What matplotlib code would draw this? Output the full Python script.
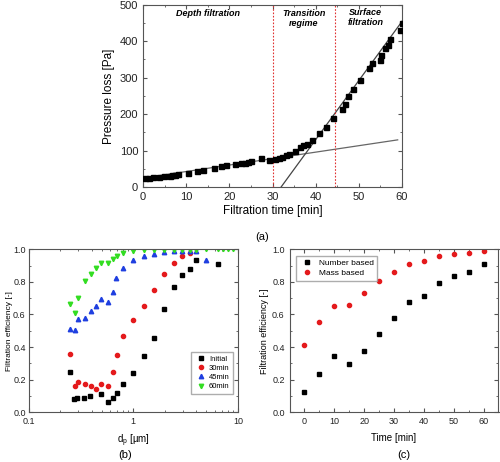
import numpy as np
import matplotlib
matplotlib.use('Agg')
import matplotlib.pyplot as plt

plt.rcParams['font.family'] = ['Liberation Sans', 'DejaVu Sans']

# (a) pressure loss vs filtration time
t_a = [0.5, 1.3, 2.3, 3.6, 4.9, 6.2, 6.7, 7.3, 8.1, 10.4, 12.6, 13.9, 16.5, 18.1, 19.3,
       21.3, 22.7, 23.7, 24.4, 25.0, 27.3, 29.3, 30.6, 31.4, 32.3, 33.1, 33.9, 35.1,
       36.4, 37.1, 37.9, 39.1, 40.8, 42.3, 43.9, 46.2, 46.8, 47.5, 48.7, 50.3, 52.3,
       53.0, 54.9, 55.2, 56.1, 56.8, 57.2, 59.6, 59.9]
p_a = [23.6, 24.5, 26.4, 28.2, 30.0, 31.8, 32.7, 33.6, 35.5, 39.1, 43.6, 47.3, 53.6, 57.3,
       60.0, 62.7, 65.5, 67.3, 69.1, 70.9, 80.0, 74.5, 77.3, 79.1, 82.7, 87.3, 90.9, 100,
       109, 114.5, 118, 130, 148, 163.6, 190, 212.7, 228, 250, 268, 293.6, 325.5, 339,
       348, 361, 380, 390, 405.5, 431, 451]
# linear fits (intercept, slope, t range)
fit_depth = (25.0, 1.77, 0.0, 59.0)
fit_surface = (-518.0, 16.2, 32.0, 60.0)
regime_bounds = [30.0, 44.5]

# (b) fractional efficiency vs particle size
dp_init = [0.25, 0.27, 0.29, 0.34, 0.39, 0.49, 0.57, 0.64, 0.70, 0.79, 1.0, 1.28, 1.57,
           1.96, 2.46, 2.93, 3.45, 3.97, 6.43]
eff_init = [0.245, 0.08, 0.086, 0.09, 0.10, 0.112, 0.061, 0.088, 0.118, 0.175, 0.243,
            0.347, 0.456, 0.636, 0.769, 0.844, 0.879, 0.936, 0.908]
dp_30 = [0.25, 0.275, 0.296, 0.345, 0.394, 0.44, 0.493, 0.571, 0.638, 0.697, 0.79, 0.985,
         1.28, 1.57, 1.96, 2.46, 2.93, 3.45]
eff_30 = [0.358, 0.16, 0.184, 0.175, 0.163, 0.145, 0.172, 0.163, 0.245, 0.352, 0.468,
          0.568, 0.654, 0.752, 0.85, 0.918, 0.957, 0.977]
dp_45 = [0.25, 0.275, 0.296, 0.345, 0.394, 0.44, 0.493, 0.571, 0.638, 0.69, 0.79, 0.985,
         1.28, 1.57, 1.96, 2.46, 2.93, 3.45, 3.97, 4.97]
eff_45 = [0.511, 0.503, 0.57, 0.577, 0.62, 0.654, 0.693, 0.675, 0.738, 0.824, 0.885, 0.936,
          0.96, 0.971, 0.982, 0.99, 0.99, 0.99, 0.99, 0.936]
dp_60 = [0.25, 0.275, 0.296, 0.345, 0.394, 0.44, 0.493, 0.571, 0.638, 0.697, 0.79, 0.985,
         1.28, 1.57, 1.96, 2.46, 2.93, 3.45, 3.97, 5.0, 6.5, 7.2, 8.0, 9.0]
eff_60 = [0.663, 0.607, 0.703, 0.805, 0.847, 0.885, 0.918, 0.918, 0.942, 0.96, 0.975, 0.99,
          0.995, 0.995, 0.995, 0.995, 0.995, 0.995, 0.995, 1.0, 1.0, 1.0, 1.0, 1.0]

# (c) overall efficiency vs time
t_c = [0, 5, 10, 15, 20, 25, 30, 35, 40, 45, 50, 55, 60]
eff_number = [0.126, 0.237, 0.345, 0.296, 0.379, 0.481, 0.579, 0.675, 0.712, 0.794,
              0.839, 0.863, 0.908]
eff_mass = [0.41, 0.553, 0.651, 0.659, 0.733, 0.806, 0.863, 0.91, 0.93, 0.957, 0.971,
            0.978, 0.988]


def style_axes(ax, size):
    for s in ax.spines.values():
        s.set_color('#555555')
        s.set_linewidth(0.8)
    ax.tick_params(which='both', direction='in', top=True, right=True,
                   labelsize=size, colors='#555555', labelcolor='#222222')
    ax.tick_params(which='major', length=3)
    ax.tick_params(which='minor', length=1.5)


fig = plt.figure(figsize=(5.0, 4.62), dpi=100)

# ---- (a)
ax = fig.add_axes([0.286, 0.595, 0.518, 0.395])
ax.plot(t_a, p_a, 's', color='black', ms=3.6, zorder=3)
tt = np.array(fit_depth[2:])
ax.plot(tt, fit_depth[0] + fit_depth[1] * tt, color='#666666', lw=0.9)
tt = np.array(fit_surface[2:])
ax.plot(tt, fit_surface[0] + fit_surface[1] * tt, color='#444444', lw=0.9)
for xb in regime_bounds:
    ax.axvline(xb, color='#e03030', ls=(0, (1.5, 1.5)), lw=0.8)
ax.set_xlim(0, 60)
ax.set_ylim(0, 500)
ax.set_xticks(range(0, 61, 10))
ax.set_yticks(range(0, 501, 100))
ax.set_xticks(range(5, 60, 10), minor=True)
ax.set_yticks(range(50, 500, 100), minor=True)
style_axes(ax, 8)
ax.set_xlabel('Filtration time [min]', fontsize=8.5, labelpad=2)
ax.set_ylabel('Pressure loss [Pa]', fontsize=8.5, labelpad=3)
txt = dict(fontsize=6.5, fontweight='bold', style='italic', ha='center', va='top')
ax.text(15, 488, 'Depth filtration', **txt)
ax.text(37.2, 488, 'Transition\nregime', **txt)
ax.text(51.5, 492, 'Surface\nfiltration', **txt)

# ---- (b)
ax = fig.add_axes([0.057, 0.1076, 0.419, 0.3528])
ax.semilogx(dp_init, eff_init, 's', color='black', ms=2.8, label='Initial')
ax.semilogx(dp_30, eff_30, 'o', color='#e41a1c', ms=3.0, label='30min')
ax.semilogx(dp_45, eff_45, '^', color='#1f3fe0', ms=3.2, label='45min')
ax.semilogx(dp_60, eff_60, 'v', color='#33dd22', ms=3.2, label='60min')
ax.set_xlim(0.1, 10)
ax.set_ylim(0, 1.0)
ax.set_xticks([0.1, 1, 10])
ax.set_xticklabels(['0.1', '1', '10'])
ax.set_yticks(np.arange(0, 1.01, 0.2))
ax.set_yticks(np.arange(0.1, 1.0, 0.2), minor=True)
ax.set_yticklabels(['%.1f' % v for v in np.arange(0, 1.01, 0.2)])
style_axes(ax, 6.5)
ax.tick_params(axis='y', pad=2)
ax.set_xlabel('d$_\\mathregular{p}$ [µm]', fontsize=7, labelpad=5)
ax.set_ylabel('Filtration efficiency [-]', fontsize=6)
ax.yaxis.set_label_coords(-0.072, 0.5)
ax.legend(loc='lower right', fontsize=5.5, frameon=True, fancybox=False,
          edgecolor='#999999', handletextpad=0.3, borderpad=0.45,
          labelspacing=0.25, handlelength=1.6, bbox_to_anchor=(0.995, 0.09))

# ---- (c)
ax = fig.add_axes([0.579, 0.1076, 0.418, 0.3528])
ax.plot(t_c, eff_number, 's', color='black', ms=2.8, label='Number based')
ax.plot(t_c, eff_mass, 'o', color='#e41a1c', ms=3.0, label='Mass based')
ax.set_xlim(-5, 65)
ax.set_ylim(0, 1.0)
ax.set_xticks(range(0, 61, 10))
ax.set_xticks(range(5, 61, 10), minor=True)
ax.set_yticks(np.arange(0, 1.01, 0.2))
ax.set_yticks(np.arange(0.1, 1.0, 0.2), minor=True)
ax.set_yticklabels(['%.1f' % v for v in np.arange(0, 1.01, 0.2)])
style_axes(ax, 6.5)
ax.set_xlabel('Time [min]', fontsize=7, labelpad=5)
ax.set_ylabel('Filtration efficiency [-]', fontsize=6.5, labelpad=2)
ax.legend(loc='upper left', fontsize=6, frameon=True, fancybox=False,
          edgecolor='#999999', handletextpad=0.4, borderpad=0.4,
          labelspacing=0.3, bbox_to_anchor=(0.01, 0.985))

fig.text(0.524, 0.487, '(a)', fontsize=8, ha='center', va='center')
fig.text(0.25, 0.015, '(b)', fontsize=8, ha='center', va='center')
fig.text(0.808, 0.015, '(c)', fontsize=8, ha='center', va='center')

fig.savefig('out.png', dpi=100)
